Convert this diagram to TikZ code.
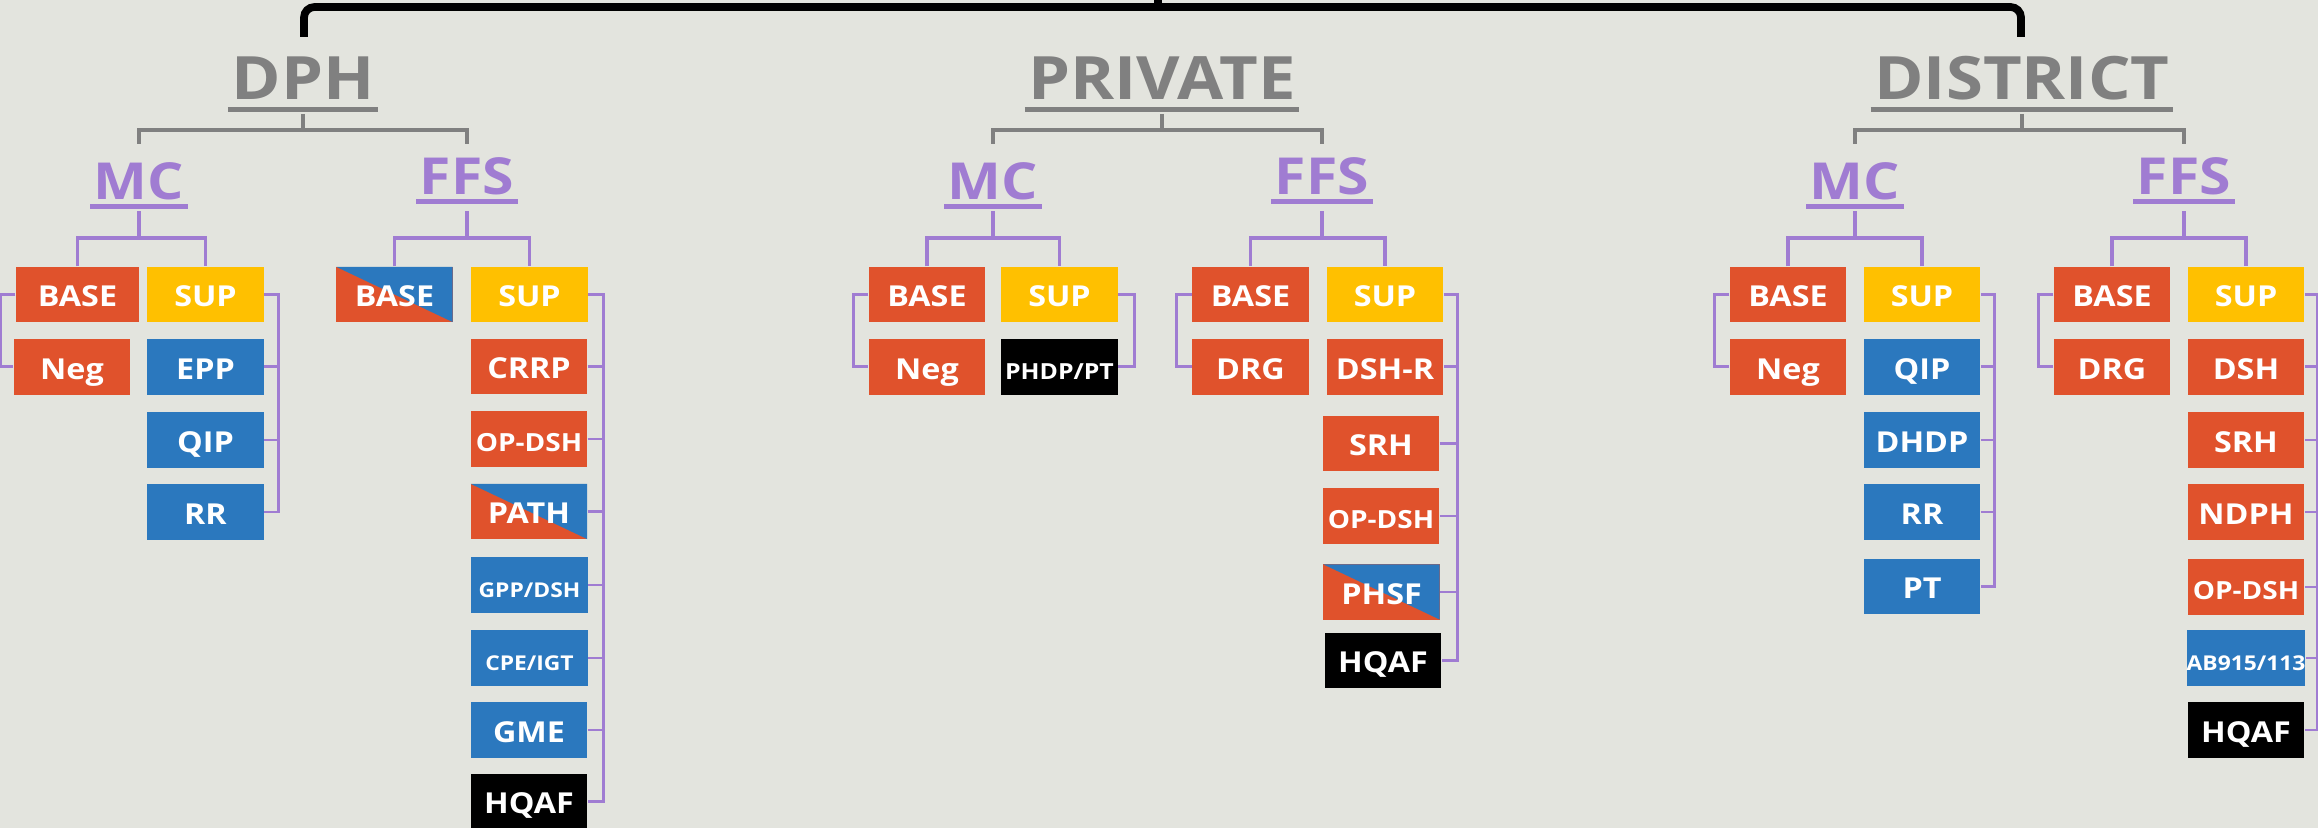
\documentclass[tikz,border=0pt]{standalone}
\usepackage{fontspec}
\setmainfont{Open Sans}[FakeStretch=1.12]
\usetikzlibrary{calc}
\definecolor{bgcolor}{RGB}{227,228,222}
\definecolor{boxred}{RGB}{224,82,44}
\definecolor{boxblue}{RGB}{43,120,190}
\definecolor{boxyellow}{RGB}{255,192,0}
\definecolor{linepurple}{RGB}{160,124,210}
\definecolor{headgrey}{RGB}{128,128,128}

\tikzset{
  box/.style={rectangle,minimum width=1.16cm,minimum height=0.55cm,inner sep=0pt,
    text=white,font=\bfseries\fontsize{8.2}{10}\selectfont,text height=0.71em,text depth=0pt},
  redbox/.style={box,fill=boxred},
  bluebox/.style={box,fill=boxblue},
  yellowbox/.style={box,fill=boxyellow},
  blackbox/.style={box,fill=black},
  splitbox/.style={box,fill=boxred,path picture={
    \fill[boxblue] (path picture bounding box.north west) -- (path picture bounding box.north east)
      -- (path picture bounding box.south east) -- cycle;}},
  smalltext/.style={font=\bfseries\fontsize{5.8}{7}\selectfont},
  midtext/.style={font=\bfseries\fontsize{7.1}{9}\selectfont},
  head/.style={anchor=base,inner sep=0pt,text=headgrey,font=\bfseries\fontsize{17}{20}\selectfont},
  subhead/.style={anchor=base,inner sep=0pt,text=linepurple,font=\bfseries\fontsize{14.5}{18}\selectfont},
  headrule/.style={headgrey,line width=1.7pt},
  subrule/.style={linepurple,line width=1.4pt},
  topbr/.style={black,line width=2.2pt,rounded corners=3},
  greybr/.style={headgrey,line width=1.4pt},
  purplebr/.style={linepurple,line width=1.1pt},
  sidebr/.style={linepurple,line width=0.85pt}
}

\begin{document}
\begin{tikzpicture}[x=0.01cm,y=-0.01cm]
  \useasboundingbox[fill=bgcolor] (0,0) rectangle (2318,828);

  % top bracket:
  \coordinate (topj) at (1158,7);
  \draw[topbr] (304,37) |- (topj) -| (2021,37);
  \draw[topbr] (topj) -- (1158,-5);

  % headers:
  \node[head] (dph) at (303,100) {DPH};
  \node[head] (priv) at (1162,100) {PRIVATE};
  \node[head] (dist) at (2022,100) {DISTRICT};
  \foreach \h in {dph,priv,dist}
    \draw[headrule] ($(\h.base west)+(-3,9.5)$) -- ($(\h.base east)+(3,9.5)$);

  \node[subhead] (dphmc) at (139,200) {MC};
  \node[subhead] (dphffs) at (467,195) {FFS};
  \node[subhead] (privmc) at (993,200) {MC};
  \node[subhead] (privffs) at (1322,195) {FFS};
  \node[subhead] (distmc) at (1855,200) {MC};
  \node[subhead] (distffs) at (2184,195) {FFS};
  \foreach \h in {dphmc,dphffs,privmc,privffs,distmc,distffs}
    \draw[subrule] ($(\h.base west)+(-3,6.5)$) -- ($(\h.base east)+(3,6.5)$);

  % DPH:
  \node[redbox,minimum width=1.23cm] (b1) at (77.5,294.5) {BASE};
  \node[yellowbox] (s1) at (205.5,294.5) {SUP};
  \node[redbox] (n1) at (72,367) {Neg};
  \node[bluebox] (epp1) at (205.5,367) {EPP};
  \node[bluebox] (qip1) at (205.5,440) {QIP};
  \node[bluebox] (rr1) at (205.5,512) {RR};

  \node[splitbox] (b2) at (394.5,294.5) {BASE};
  \node[yellowbox] (s2) at (529.5,294.5) {SUP};
  \node[redbox] (crrp2) at (529,366.5) {CRRP};
  \node[redbox,midtext] (opdsh2) at (529,439) {OP-DSH};
  \node[splitbox] (path2) at (529,511.5) {PATH};
  \node[bluebox,smalltext] (gpp2) at (529.5,585) {GPP/DSH};
  \node[bluebox,smalltext] (cpe2) at (529.5,658) {CPE/IGT};
  \node[bluebox] (gme2) at (529,730) {GME};
  \node[blackbox] (hqaf2) at (529,801.5) {HQAF};

  % PRIVATE:
  \node[redbox] (b3) at (927,294.5) {BASE};
  \node[yellowbox] (s3) at (1059.5,294.5) {SUP};
  \node[redbox] (n3) at (927,367) {Neg};
  \node[blackbox,font=\bfseries\fontsize{6.3}{8}\selectfont] (phdp3) at (1059.5,367) {PHDP/PT};

  \node[redbox] (b4) at (1250.5,294.5) {BASE};
  \node[yellowbox] (s4) at (1385,294.5) {SUP};
  \node[redbox] (n4) at (1250.5,367) {DRG};
  \node[redbox] (dshr4) at (1385,367) {DSH-R};
  \node[redbox] (srh4) at (1381,443.5) {SRH};
  \node[redbox,midtext] (opdsh4) at (1381,516) {OP-DSH};
  \node[splitbox] (phsf4) at (1381.5,592) {PHSF};
  \node[blackbox] (hqaf4) at (1383,660.5) {HQAF};

  % DISTRICT:
  \node[redbox] (b5) at (1788,294.5) {BASE};
  \node[yellowbox] (s5) at (1922,294.5) {SUP};
  \node[redbox] (n5) at (1788,367) {Neg};
  \node[bluebox] (qip5) at (1922,367) {QIP};
  \node[bluebox] (dhdp5) at (1922,440) {DHDP};
  \node[bluebox] (rr5) at (1922,512) {RR};
  \node[bluebox] (pt5) at (1922,586.5) {PT};

  \node[redbox] (b6) at (2112,294.5) {BASE};
  \node[yellowbox] (s6) at (2246,294.5) {SUP};
  \node[redbox] (n6) at (2112,367) {DRG};
  \node[redbox] (dsh6) at (2246,367) {DSH};
  \node[redbox] (srh6) at (2246,440) {SRH};
  \node[redbox] (ndph6) at (2246,512) {NDPH};
  \node[redbox,midtext] (opdsh6) at (2246,587) {OP-DSH};
  \node[bluebox,smalltext] (ab6) at (2246,658) {AB915/113};
  \node[blackbox] (hqaf6) at (2246,730) {HQAF};

  % grey brackets:
  \foreach \h/\l/\r in {dph/dphmc/dphffs, priv/privmc/privffs, dist/distmc/distffs}{
    \draw[greybr] ($(\h.base)+(0,14)$) -- ++(0,16) coordinate (\h j);
    \draw[greybr] ($(\l.base)+(0,-56)$) |- (\h j) -| ($(\r.base)+(0,-51)$);
  }

  % purple brackets:
  \foreach \h/\b/\s in {dphmc/b1/s1, dphffs/b2/s2, privmc/b3/s3, privffs/b4/s4, distmc/b5/s5, distffs/b6/s6}{
    \coordinate (\h j) at ($(\h.base |- \b.north)+(0,-28)$);
    \draw[purplebr] (\h j) -- ++(0,-27);
    \draw[purplebr] (\b.north) |- (\h j) -| (\s.north);
  }

  % side brackets:
  \foreach \b/\n in {b1/n1, b3/n3, b4/n4, b5/n5, b6/n6}
    \draw[sidebr] (\b.west) -- ++(-15,0) |- (\n.west);

  \draw[sidebr] (s1.east) -- ++(14,0) coordinate (bar1) |- (rr1.east);
  \foreach \n in {epp1,qip1}
    \draw[sidebr] (\n.east) -- (\n.east -| bar1);
  \draw[sidebr] (s2.east) -- ++(15,0) coordinate (bar2) |- (hqaf2.east);
  \foreach \n in {crrp2,opdsh2,path2,gpp2,cpe2,gme2}
    \draw[sidebr] (\n.east) -- (\n.east -| bar2);
  \draw[sidebr] (s3.east) -- ++(16,0) |- (phdp3.east);
  \draw[sidebr] (s4.east) -- ++(14,0) coordinate (bar4) |- (hqaf4.east);
  \foreach \n in {dshr4,srh4,opdsh4,phsf4}
    \draw[sidebr] (\n.east) -- (\n.east -| bar4);
  \draw[sidebr] (s5.east) -- ++(14,0) coordinate (bar5) |- (pt5.east);
  \foreach \n in {qip5,dhdp5,rr5}
    \draw[sidebr] (\n.east) -- (\n.east -| bar5);
  \draw[sidebr] (s6.east) -- ++(13,0) coordinate (bar6) |- (hqaf6.east);
  \foreach \n in {dsh6,srh6,ndph6,opdsh6,ab6}
    \draw[sidebr] (\n.east) -- (\n.east -| bar6);
\end{tikzpicture}
\end{document}
